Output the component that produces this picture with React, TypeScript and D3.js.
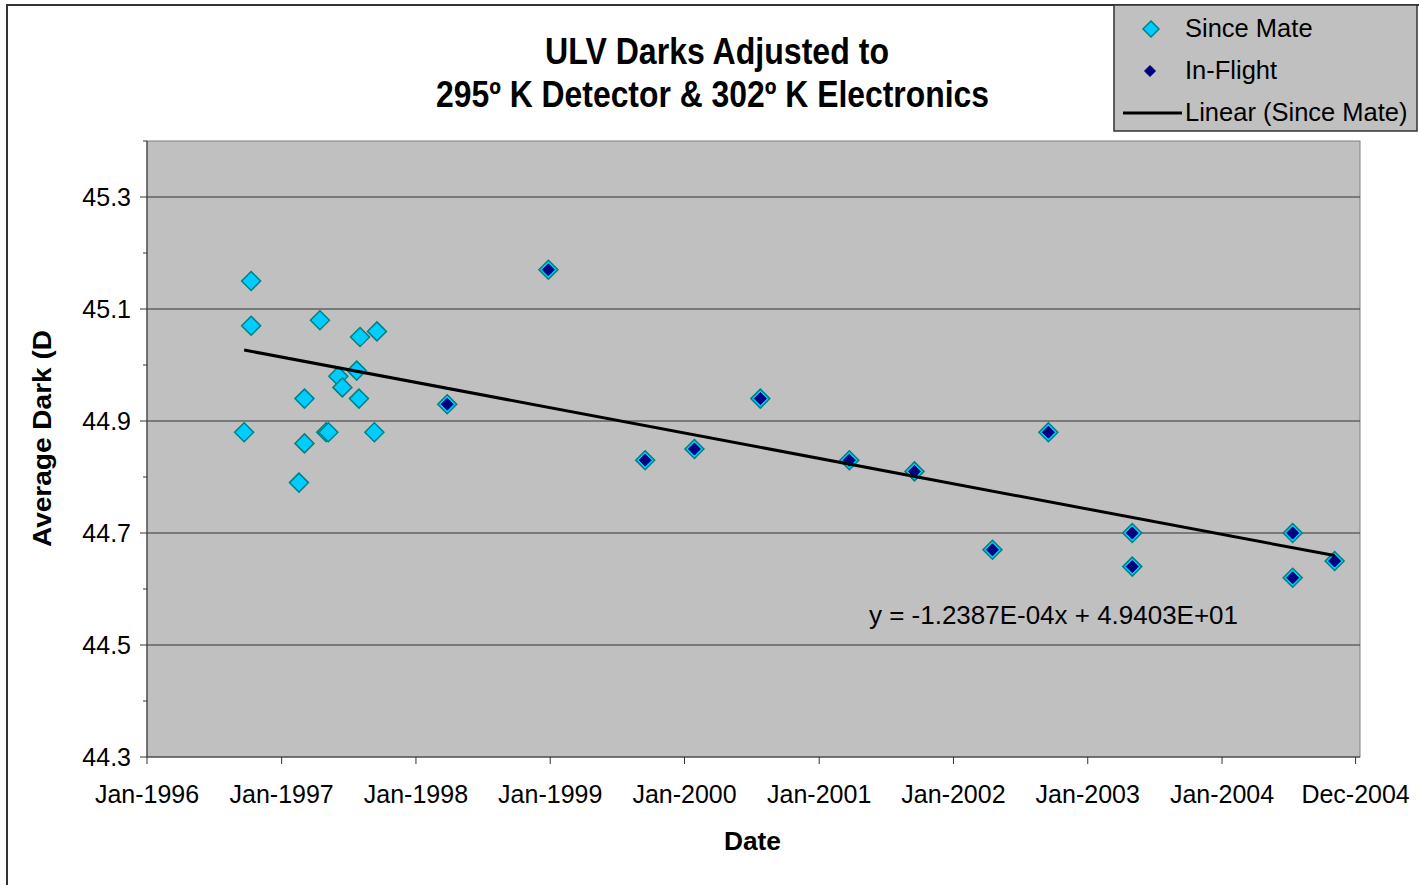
import React from "react";
import * as d3 from "d3";

const sinceMateDates = [
  "1996-09-21", "1996-10-10", "1996-10-10", "1997-02-17", "1997-03-04", "1997-03-04",
  "1997-04-15", "1997-05-02", "1997-05-08", "1997-06-04", "1997-06-15", "1997-07-24",
  "1997-07-30", "1997-08-02", "1997-09-10", "1997-09-17",
  "1998-03-27", "1998-12-27", "1999-09-16", "2000-01-28", "2000-07-25", "2001-03-24",
  "2001-09-17", "2002-04-17", "2002-09-16", "2003-05-02", "2003-05-02", "2004-07-11",
  "2004-07-11", "2004-11-02",
];
const sinceMateValues = [
  44.88, 45.15, 45.07, 44.79, 44.94, 44.86,
  45.08, 44.88, 44.88, 44.98, 44.96, 44.99,
  44.94, 45.05, 44.88, 45.06,
  44.93, 45.17, 44.83, 44.85, 44.94, 44.83,
  44.81, 44.67, 44.88, 44.70, 44.64, 44.70,
  44.62, 44.65,
];
const inFlightDates = [
  "1998-03-27", "1998-12-27", "1999-09-16", "2000-01-28", "2000-07-25", "2001-03-24",
  "2001-09-17", "2002-04-17", "2002-09-16", "2003-05-02", "2003-05-02", "2004-07-11",
  "2004-07-11", "2004-11-02",
];
const inFlightValues = [
  44.93, 45.17, 44.83, 44.85, 44.94, 44.83,
  44.81, 44.67, 44.88, 44.70, 44.64, 44.70,
  44.62, 44.65,
];
const xTickDates = [
  "1996-01-01", "1997-01-01", "1998-01-01", "1999-01-01", "2000-01-01",
  "2001-01-01", "2002-01-01", "2003-01-01", "2004-01-01", "2004-12-29",
];
const xTickLabels = [
  "Jan-1996", "Jan-1997", "Jan-1998", "Jan-1999", "Jan-2000",
  "Jan-2001", "Jan-2002", "Jan-2003", "Jan-2004", "Dec-2004",
];
const yTicks = [44.3, 44.5, 44.7, 44.9, 45.1, 45.3];
const yMinorTicks = [44.4, 44.6, 44.8, 45.0, 45.2, 45.4];
const trendSlope = -1.2387e-4;
const trendIntercept = 4.9403e1;
const legendItems = ["Since Mate", "In-Flight", "Linear (Since Mate)"];

const parse = (s: string) => new Date(s + "T00:00:00Z");
const excelSerial = (d: Date) =>
  (d.getTime() - Date.UTC(1899, 11, 30)) / 86400000;

const FONT = "Arial, 'Liberation Sans', sans-serif";

export default function App() {
  const left = 147, right = 1360, top = 141, bottom = 757;
  const x = d3
    .scaleUtc()
    .domain([parse("1996-01-01"), parse("2005-01-10")])
    .range([left, right]);
  const y = d3.scaleLinear().domain([44.3, 45.4]).range([bottom, top]);

  const diamond = (cx: number, cy: number, r: number) =>
    `M${cx},${cy - r}L${cx + r},${cy}L${cx},${cy + r}L${cx - r},${cy}Z`;

  const dates = sinceMateDates.map(parse);
  const xFirst = d3.min(dates)!;
  const xLast = d3.max(dates)!;
  const trend = (d: Date) => trendSlope * excelSerial(d) + trendIntercept;

  return (
    <svg
      width={1419}
      height={885}
      style={{ position: "absolute", left: 0, top: 0, background: "#fff" }}
      fontFamily={FONT}
    >
      {/* chart area border */}
      <path d="M7,890 L7,5 L1419,5" fill="none" stroke="#333" strokeWidth={2} />

      {/* plot area */}
      <rect x={left} y={top} width={right - left} height={bottom - top} fill="#c0c0c0" stroke="#808080" strokeWidth={1} />
      {yTicks.slice(1).map((t) => (
        <line key={t} x1={left} x2={right} y1={y(t)} y2={y(t)} stroke="#333" strokeWidth={1} />
      ))}

      {/* axes */}
      <line x1={left} x2={left} y1={top} y2={bottom} stroke="#333" strokeWidth={1} />
      <line x1={left} x2={right} y1={bottom} y2={bottom} stroke="#333" strokeWidth={1} />
      {yTicks.map((t) => (
        <g key={t}>
          <line x1={left - 7} x2={left} y1={y(t)} y2={y(t)} stroke="#333" />
          <text x={left - 16} y={y(t)} dy="0.36em" textAnchor="end" fontSize={25} fill="#000">
            {t.toFixed(1)}
          </text>
        </g>
      ))}
      {yMinorTicks.map((t) => (
        <line key={t} x1={left - 4} x2={left} y1={y(t)} y2={y(t)} stroke="#333" />
      ))}
      {xTickDates.map((s, i) => (
        <g key={s}>
          <line x1={x(parse(s))} x2={x(parse(s))} y1={bottom} y2={bottom + 7} stroke="#333" />
          <text x={x(parse(s))} y={bottom + 46} textAnchor="middle" fontSize={25} fill="#000">
            {xTickLabels[i]}
          </text>
        </g>
      ))}

      {/* Since Mate */}
      {sinceMateDates.map((s, i) => (
        <path
          key={"s" + i}
          d={diamond(x(parse(s)), y(sinceMateValues[i]), 9.5)}
          fill="#00ccff"
          stroke="#008080"
          strokeWidth={1.5}
        />
      ))}
      {/* In-Flight */}
      {inFlightDates.map((s, i) => (
        <path
          key={"f" + i}
          d={diamond(x(parse(s)), y(inFlightValues[i]), 6)}
          fill="#000080"
          stroke="#000080"
          strokeWidth={1}
        />
      ))}

      {/* trend line */}
      <line
        x1={x(xFirst)}
        y1={y(trend(xFirst))}
        x2={x(xLast)}
        y2={y(trend(xLast))}
        stroke="#000"
        strokeWidth={3}
      />
      <text x={869} y={624} fontSize={26} fill="#000" textLength={369} lengthAdjust="spacingAndGlyphs">
        y = -1.2387E-04x + 4.9403E+01
      </text>

      {/* title */}
      <text x={545} y={64} fontSize={36} fontWeight="bold" fill="#000" textLength={344} lengthAdjust="spacingAndGlyphs">
        ULV Darks Adjusted to
      </text>
      <text x={436} y={107} fontSize={36} fontWeight="bold" fill="#000" textLength={553} lengthAdjust="spacingAndGlyphs">
        295º K Detector &amp; 302º K Electronics
      </text>

      {/* axis titles */}
      <text
        transform={`translate(51,547) rotate(-90)`}
        fontSize={26}
        fontWeight="bold"
        fill="#000"
        textLength={217}
        lengthAdjust="spacingAndGlyphs"
      >
        Average Dark (D
      </text>
      <text x={724} y={850} fontSize={26} fontWeight="bold" fill="#000" textLength={57} lengthAdjust="spacingAndGlyphs">
        Date
      </text>

      {/* legend */}
      <rect x={1114} y={5} width={303} height={126} fill="#c0c0c0" stroke="#333" strokeWidth={1.5} />
      <path d={diamond(1151, 29, 8)} fill="#00ccff" stroke="#008080" strokeWidth={1.5} />
      <path d={diamond(1150, 71, 5.5)} fill="#000080" stroke="#000080" />
      <line x1={1123} x2={1182} y1={113} y2={113} stroke="#000" strokeWidth={3} />
      {legendItems.map((t, i) => (
        <text key={t} x={1185} y={28 + i * 42} dy="0.36em" fontSize={25.5} fill="#000">
          {t}
        </text>
      ))}
    </svg>
  );
}
